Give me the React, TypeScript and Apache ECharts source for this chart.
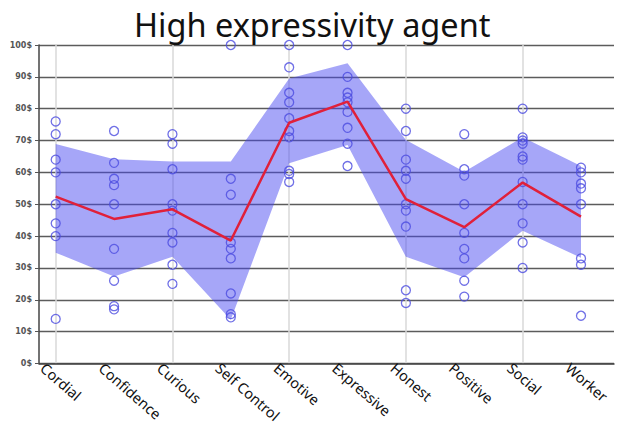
import React, { useEffect, useRef } from "react";
import * as echarts from "echarts";

const categories = ["Cordial", "Confidence", "Curious", "Self Control", "Emotive", "Expressive", "Honest", "Positive", "Social", "Worker"];
const meanValues = [52.4, 45.4, 48.4, 38.6, 75.6, 82.2, 51.6, 42.8, 56.8, 46.1];
const bandUpper = [68.9, 64.1, 63.4, 63.4, 89.5, 94.3, 70.2, 60.2, 71.0, 62.0];
const bandLower = [34.8, 27.3, 33.5, 13.7, 62.9, 68.6, 33.5, 27.1, 41.7, 33.2];
const responses: number[][] = [
  [76, 72, 64, 60, 50, 44, 40, 14],
  [73, 63, 58, 56, 50, 36, 26, 18, 17],
  [72, 69, 61, 50, 48, 41, 38, 31, 25],
  [100, 58, 53, 38, 36, 33, 22, 15.5, 14.5],
  [100, 93, 85, 82, 77, 73, 71, 60.5, 59.5, 57],
  [100, 90, 85, 83.5, 82, 79, 74, 69, 62],
  [80, 73, 64, 60.5, 58, 50, 48, 43, 23, 19],
  [72, 61, 59, 50, 41, 36, 33, 26, 21],
  [80, 71, 70, 69, 65, 64, 57, 50, 44, 38, 30],
  [61.5, 60, 56.5, 55, 50, 33, 31, 15],
];
const yTicks = [0, 10, 20, 30, 40, 50, 60, 70, 80, 90, 100];

export default function App() {
  const ref = useRef<HTMLDivElement>(null);
  useEffect(() => {
    if (!ref.current) return;
    const chart = echarts.init(ref.current, null, { renderer: "svg" });
    const scatterData: [number, number][] = [];
    responses.forEach((vals, i) => vals.forEach((v) => scatterData.push([i, v])));
    const bandDiff = bandUpper.map((u, i) => u - bandLower[i]);
    const top = 45;
    const bottom = 436 - 363.5;
    chart.setOption({
      animation: false,
      title: {
        text: "High expressivity agent",
        left: 134,
        top: 6,
        padding: 0,
        textStyle: { fontFamily: "Noto Sans", fontSize: 32.5, lineHeight: 36, fontWeight: "normal", color: "#111" },
      },
      grid: [
        { left: 39, right: 9, top, bottom },
        { left: 55.7, right: 42, top, bottom },
        { left: 43, right: 54.7, top, bottom },
      ],
      xAxis: [
        {
          gridIndex: 0, type: "value", min: 0, max: 1,
          axisLine: { show: true, lineStyle: { color: "#444", width: 1.5 } },
          axisTick: { show: false }, axisLabel: { show: false }, splitLine: { show: false },
        },
        {
          gridIndex: 1, type: "category", data: categories, boundaryGap: false,
          axisLine: { show: false }, axisTick: { show: false }, axisLabel: { show: false },
          splitLine: { show: true, lineStyle: { color: "#d8d8d8", width: 1.5 } },
        },
        {
          gridIndex: 2, type: "category", data: categories, boundaryGap: false,
          axisLine: { show: false }, axisTick: { show: false }, splitLine: { show: false },
          axisLabel: { show: true, interval: 0, rotate: -41, margin: 2, fontFamily: "Noto Sans", fontSize: 14.5, color: "#111" },
        },
      ],
      yAxis: [
        {
          gridIndex: 0, type: "value", min: 0, max: 100, interval: 10,
          axisLine: { show: true, lineStyle: { color: "#444", width: 1.5 } },
          axisTick: { show: true, length: 4, lineStyle: { color: "#555" } },
          axisLabel: {
            formatter: (v: number) => (yTicks.includes(v) ? v + "$" : ""),
            fontSize: 8, fontWeight: "bold", color: "#555", fontFamily: "DejaVu Sans", margin: 7,
          },
          splitLine: { show: true, lineStyle: { color: "#5c5c5c", width: 1.4 } },
        },
        { gridIndex: 1, type: "value", min: 0, max: 100, show: false },
        { gridIndex: 2, type: "value", min: 0, max: 100, show: false },
      ],
      series: [
        {
          type: "line", xAxisIndex: 1, yAxisIndex: 1, data: bandLower, stack: "band",
          symbol: "none", lineStyle: { opacity: 0 }, z: 1, silent: true,
        },
        {
          type: "line", xAxisIndex: 1, yAxisIndex: 1, data: bandDiff, stack: "band",
          symbol: "none", lineStyle: { opacity: 0 },
          areaStyle: { color: "rgb(70,70,240)", opacity: 0.48 }, z: 1, silent: true,
        },
        {
          type: "scatter", xAxisIndex: 1, yAxisIndex: 1, data: scatterData,
          symbol: "circle", symbolSize: 9,
          itemStyle: { color: "rgba(0,0,0,0)", borderColor: "#4b4be0", borderWidth: 1.3 },
          z: 2,
        },
        {
          type: "line", xAxisIndex: 1, yAxisIndex: 1, data: meanValues,
          symbol: "none", lineStyle: { color: "#e0203a", width: 2.5 }, z: 3,
        },
      ],
    });
    return () => chart.dispose();
  }, []);
  return <div ref={ref} style={{ position: "absolute", left: 0, top: 0, width: 623, height: 436 }} />;
}
